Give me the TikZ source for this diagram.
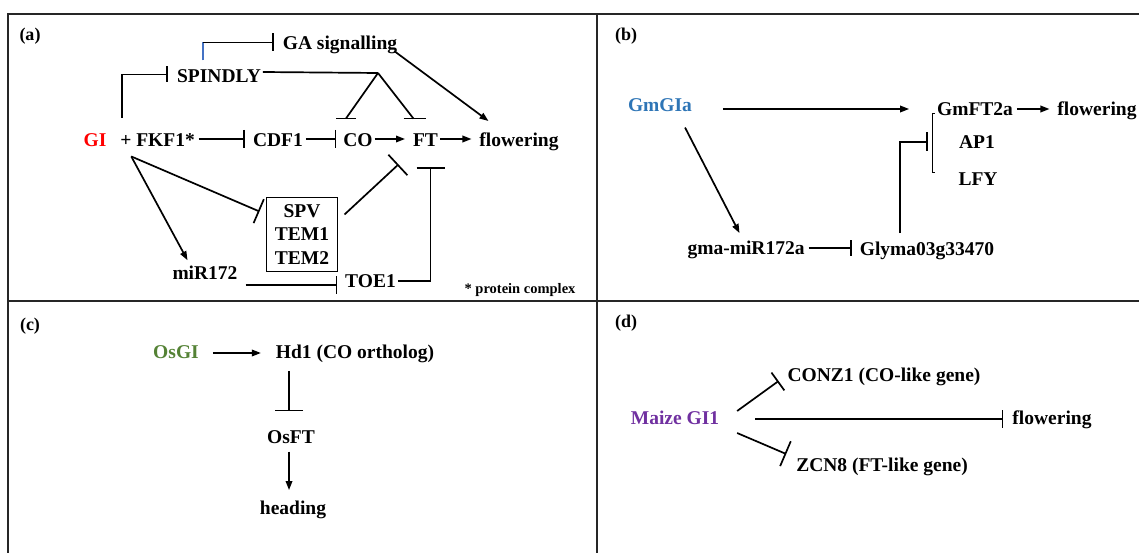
\documentclass[tikz,border=0pt]{standalone}
\usepackage{fontspec}
\setmainfont{Liberation Serif}
\usetikzlibrary{arrows.meta,calc}
\definecolor{giRed}{RGB}{255,0,0}
\definecolor{gmBlue}{RGB}{46,117,182}
\definecolor{osGreen}{RGB}{84,130,53}
\definecolor{zmPurple}{RGB}{112,48,160}
\definecolor{linkBlue}{RGB}{68,114,196}

\begin{document}
\begin{tikzpicture}[x=1pt,y=-1pt,
  lbl/.style={font=\fontsize{19.5}{23.5}\selectfont\bfseries, inner sep=0pt, outer sep=0pt},
  tag/.style={font=\fontsize{18}{21}\selectfont\bfseries, inner sep=0pt},
  note/.style={font=\fontsize{14.5}{17}\selectfont\bfseries, inner sep=0pt},
  link/.style={line width=1.7pt},
  act/.style={link, -{Triangle[length=9pt,width=6.5pt]}},
  inh/.style={link, -{Bar[width=#1]}}, inh/.default=18pt,
  frame/.style={line width=1.6pt, draw=black!85},
  thinline/.style={line width=0.9pt}]
\useasboundingbox (0,0) rectangle (1139,553);

% panel frames
\draw[frame] (8,553) -- (8,14) -- (1139,14);
\draw[frame] (597,14) -- (597,553);
\draw[frame] (8,301) -- (1139,301);

% ---------- (a) Arabidopsis ----------
\node[tag] (la) at (30,36) {(a)};
\node[lbl] (ga) at (340,45) {GA signalling};
\node[lbl] (spin) at (219,76) {SPINDLY};
\node[lbl, text=giRed] (gi) at (95,140) {GI};
\node[lbl] (fkf) at (157.5,140) {+ FKF1*};
\node[lbl] (cdf) at (278,140) {CDF1};
\node[lbl] (co) at (358,140) {CO};
\node[lbl] (ft) at (425.5,140) {FT};
\node[lbl] (flw) at (519,142) {flowering};
\node[lbl, draw, line width=1pt, minimum width=71pt, minimum height=73pt, align=center] (box) at (302,234.5) {SPV\\TEM1\\TEM2};
\node[lbl] (mir) at (205,273) {miR172};
\node[lbl] (toe) at (370.5,281) {TOE1};
\node[note] (pc) at (520,290) {* protein complex};

% GI -| SPINDLY
\coordinate (gsp) at (122,118);
\draw[inh=16pt] (gsp) |- ($(spin.west)+(-9,-1.5)$);
% SPINDLY -| GA signalling
\draw[link, linkBlue] ($(spin.north west)+(26,-9)$) -- ++(0,-18) coordinate (gaK);
\draw[inh] (gaK) -- ($(gaK -| ga.west)+(-9,0)$);
% SPINDLY onto CO and FT
\coordinate (apx) at (378,73);
\coordinate (coT) at ($(co.north)+(-12,-15)$);
\coordinate (ftT) at ($(ft.north)+(-12,-15)$);
\draw[link] ($(spin.east)+(2,-4)$) -- (apx);
\draw[link] (apx) -- (coT);
\draw[link] ($(coT)+(-10,0)$) -- ($(coT)+(10,0)$);
\draw[link] (apx) -- (ftT);
\draw[link] ($(ftT)+(-10,0)$) -- ($(ftT)+(12,0)$);
% GA signalling to flowering
\draw[act] ($(ga.east)+(-3,6)$) -- ($(flw.north west)+(9,-12)$);
% main row
\draw[inh] ($(fkf.east)+(4,-1)$) -- ($(cdf.west)+(-8,-1)$);
\draw[inh] ($(cdf.east)+(3,-1)$) -- ($(co.west)+(-7,-1)$);
\draw[act] ($(co.east)+(2,-1)$) -- ($(ft.west)+(-8,-1)$);
\draw[act] ($(ft.east)+(2,-1)$) -- ($(flw.west |- ft.east)+(-8,-1)$);
% lower branch
\coordinate (fk0) at ($(fkf.south west)+(11,10)$);
\draw[inh=26pt] (fk0) -- ($(box.west)+(-7,-23)$);
\draw[act] (fk0) -- ($(mir.north west)+(15,-6)$);
\draw[inh=28pt] ($(box.east)+(7,-20)$) -- ($(ft.south)+(-27,18)$);
\draw[inh=28pt] ($(toe.east)+(2,0)$) -| ($(ft.south)+(5,21)$);
\draw[inh] ($(mir.east)+(8,12)$) -- ($(toe.west)+(-8,4)$);

% ---------- (b) soybean ----------
\node[tag] (lb) at (626,36) {(b)};
\node[lbl, text=gmBlue] (gmgi) at (660,105) {GmGIa};
\node[lbl] (gmft) at (975,109) {GmFT2a};
\node[lbl] (flwb) at (1097,111) {flowering};
\node[lbl] (ap1) at (977,142) {AP1};
\node[lbl] (lfy) at (978,179) {LFY};
\node[lbl] (gmm) at (746,250) {gma-miR172a};
\node[lbl] (gly) at (927,251) {Glyma03g33470};

\draw[act] ($(gmgi.east)+(31,4)$) -- ($(gmft.west)+(-28,0)$);
\draw[act] ($(gmft.east)+(4,0)$) -- ($(flwb.west |- gmft.east)+(-8,0)$);
\draw[act] ($(gmgi.south west)+(57,16)$) -- ($(gmm.north west)+(52,-8)$);
\draw[inh=16pt] ($(gmm.east)+(4,-2)$) -- ($(gly.west |- gmm.east)+(-8,-2)$);
\draw[inh=19pt] ($(gly.north west)+(40,-9)$) |- ($(ap1.west)+(-31,0)$);
\coordinate (brT) at ($(ap1.west)+(-27,-29)$);
\coordinate (brB) at ($(ap1.west)+(-27,30)$);
\draw[thinline] ($(brT)+(2.5,0)$) -- (brT) -- (brB) -- ($(brB)+(2.5,0)$);

% ---------- (c) rice ----------
\node[tag] (lc) at (30,326) {(c)};
\node[lbl, text=osGreen] (osgi) at (176,352) {OsGI};
\node[lbl] (hd1) at (355,354) {Hd1 (CO ortholog)};
\node[lbl] (osft) at (291,437) {OsFT};
\node[lbl] (head) at (293,510) {heading};

\draw[act] ($(osgi.east)+(14,1)$) -- ($(hd1.west |- osgi.east)+(-15,1)$);
\draw[inh=28pt] ($(hd1.south -| osft.north)+(-2,8)$) -- ($(osft.north)+(-2,-19)$);
\draw[act] ($(osft.south)+(-2,8)$) -- ($(head.north)+(-4,-11)$);

% ---------- (d) maize ----------
\node[tag] (ld) at (626,323) {(d)};
\node[lbl, text=zmPurple] (maize) at (675,418) {Maize GI1};
\node[lbl] (conz) at (884,377) {CONZ1 (CO-like gene)};
\node[lbl] (flwd) at (1052,420) {flowering};
\node[lbl] (zcn) at (882,467) {ZCN8 (FT-like gene)};

\draw[inh=22pt] ($(maize.east)+(18,-7)$) -- ($(conz.west)+(-9,4)$);
\draw[inh] ($(maize.east)+(36,1)$) -- ($(flwd.west |- maize.east)+(-9,1)$);
\draw[inh=27pt] ($(maize.east)+(18,15)$) -- ($(zcn.west)+(-10,-13)$);
\end{tikzpicture}
\end{document}
